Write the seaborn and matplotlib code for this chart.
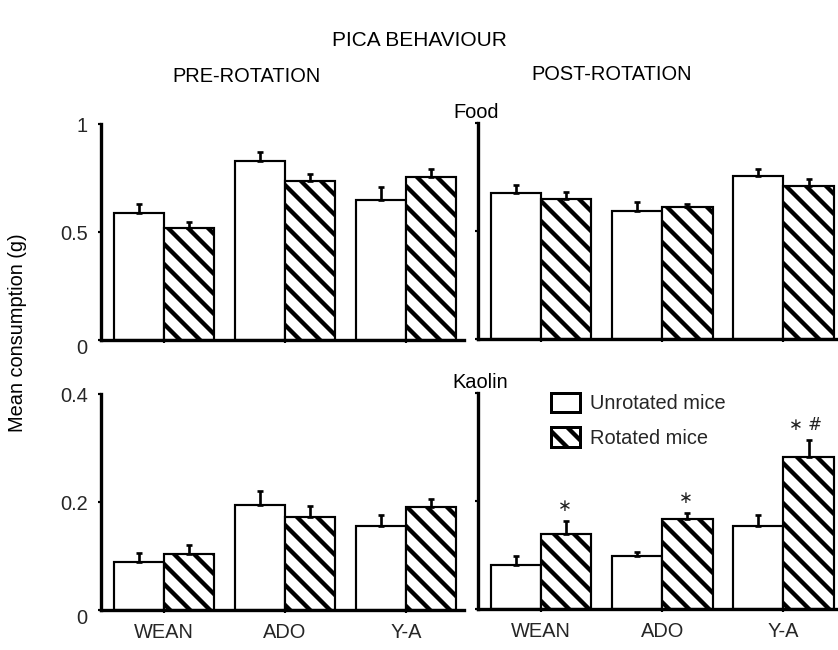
import matplotlib
matplotlib.use("Agg")
import matplotlib.pyplot as plt
from matplotlib.patches import Patch
from matplotlib.transforms import ScaledTranslation
import numpy as np
import pandas as pd
import seaborn as sns

# Age groups and treatment groups
ages = ["WEAN", "ADO", "Y-A"]
groups = ["Unrotated mice", "Rotated mice"]

# Mean consumption (g) and SEM, food
food_pre_unrot = [0.59, 0.83, 0.65]
food_pre_unrot_sem = [0.04, 0.04, 0.06]
food_pre_rot = [0.52, 0.735, 0.755]
food_pre_rot_sem = [0.028, 0.035, 0.035]
food_post_unrot = [0.677, 0.591, 0.753]
food_post_unrot_sem = [0.037, 0.045, 0.034]
food_post_rot = [0.647, 0.613, 0.707]
food_post_rot_sem = [0.033, 0.012, 0.033]

# Mean consumption (g) and SEM, kaolin
kaolin_pre_unrot = [0.089, 0.194, 0.156]
kaolin_pre_unrot_sem = [0.016, 0.026, 0.02]
kaolin_pre_rot = [0.104, 0.172, 0.19]
kaolin_pre_rot_sem = [0.017, 0.021, 0.015]
kaolin_post_unrot = [0.081, 0.099, 0.154]
kaolin_post_unrot_sem = [0.018, 0.007, 0.02]
kaolin_post_rot = [0.138, 0.167, 0.282]
kaolin_post_rot_sem = [0.025, 0.011, 0.031]

# Significance marks over rotated bars (post-rotation kaolin)
kaolin_post_marks = ["\u2217", "\u2217", "\u2217 #"]

DPI = 120
FS = 12
sns.set_theme(style="white")
plt.rcParams["font.family"] = ["Liberation Sans", "DejaVu Sans"]
plt.rcParams["hatch.linewidth"] = 2.6
plt.rcParams["hatch.color"] = "black"

fig = plt.figure(figsize=(838 / DPI, 650 / DPI), dpi=DPI)
W, H = 838.0, 650.0


def axes_px(x0, x1, ytop, ybot):
    return fig.add_axes([x0 / W, 1 - ybot / H, (x1 - x0) / W, (ybot - ytop) / H])


ax_fp = axes_px(101, 464, 124, 340)
ax_fq = axes_px(478, 838, 123, 339)
ax_kp = axes_px(101, 464, 394, 610)
ax_kq = axes_px(478, 838, 393, 609)


def draw_panel(ax, unrot, unrot_sem, rot, rot_sem, ymax, yticks, xlim,
               show_ylabels, show_xlabels):
    df = pd.DataFrame({
        "age": ages * 2,
        "group": [groups[0]] * 3 + [groups[1]] * 3,
        "value": list(unrot) + list(rot),
    })
    sns.barplot(data=df, x="age", y="value", hue="group", order=ages,
                hue_order=groups, palette=["white", "white"],
                edgecolor="black", linewidth=1.3, width=0.83,
                errorbar=None, legend=False, ax=ax, saturation=1)
    for bar in ax.containers[1]:
        bar.set_hatch("\\\\")
    # upward-only error bars
    for cont, sem in zip(ax.containers, [unrot_sem, rot_sem]):
        xs = [b.get_x() + b.get_width() / 2 for b in cont]
        ys = [b.get_height() for b in cont]
        ax.errorbar(xs, ys, yerr=[np.zeros(len(sem)), sem], fmt="none",
                    ecolor="black", elinewidth=1.6, capsize=1.8,
                    capthick=1.6, zorder=3)
    ax.set_xlim(*xlim)
    ax.set_ylim(0, ymax)
    ax.set_yticks(yticks)
    ax.set_xlabel("")
    ax.set_ylabel("")
    for side in ["top", "right"]:
        ax.spines[side].set_visible(False)
    for side in ["left", "bottom"]:
        ax.spines[side].set_color("black")
        ax.spines[side].set_linewidth(2.0)
    ax.tick_params(axis="both", direction="out", length=2, width=1.3,
                   color="black", left=True, bottom=True)
    ax.tick_params(axis="y", labelsize=FS, pad=6)
    ax.tick_params(axis="x", labelsize=FS, pad=6)
    if show_ylabels:
        ax.set_yticklabels([f"{t:g}" for t in yticks])
        # the zero label sits a little below the baseline
        lab0 = ax.get_yticklabels()[0]
        lab0.set_transform(lab0.get_transform() +
                           ScaledTranslation(0, -6 / DPI, fig.dpi_scale_trans))
    else:
        ax.set_yticklabels([])
    if not show_xlabels:
        ax.set_xticklabels([])
    ax.patch.set_alpha(0)


draw_panel(ax_fp, food_pre_unrot, food_pre_unrot_sem, food_pre_rot,
           food_pre_rot_sem, 1.0, [0, 0.5, 1], (-0.52, 2.48), True, False)
draw_panel(ax_fq, food_post_unrot, food_post_unrot_sem, food_post_rot,
           food_post_rot_sem, 1.0, [0, 0.5, 1], (-0.52, 2.45), False, False)
draw_panel(ax_kp, kaolin_pre_unrot, kaolin_pre_unrot_sem, kaolin_pre_rot,
           kaolin_pre_rot_sem, 0.4, [0, 0.2, 0.4], (-0.52, 2.48), True, True)
draw_panel(ax_kq, kaolin_post_unrot, kaolin_post_unrot_sem, kaolin_post_rot,
           kaolin_post_rot_sem, 0.4, [0, 0.2, 0.4], (-0.52, 2.45), False, True)

# significance marks above rotated kaolin bars after rotation
for bar, sem, mark in zip(ax_kq.containers[1], kaolin_post_rot_sem,
                          kaolin_post_marks):
    x = bar.get_x() + bar.get_width() / 2
    top = bar.get_height() + sem
    ax_kq.annotate(mark, (x, top), xytext=(-2 if "#" in mark else -1, 9),
                   textcoords="offset points", ha="center", va="center",
                   fontsize=10, family=["DejaVu Sans"], color="#222222")

# legend
handles = [Patch(facecolor="white", edgecolor="black", linewidth=1.8),
           Patch(facecolor="white", edgecolor="black", linewidth=1.8,
                 hatch="\\\\")]
ax_kq.legend(handles, groups, loc="upper left", bbox_to_anchor=(0.203, 1.0),
             frameon=False, fontsize=FS, handlelength=1.45, handleheight=1.1,
             handletextpad=0.5, labelspacing=0.7, borderpad=0,
             borderaxespad=0)

# titles and labels
fig.text(419 / W, 1 - 40 / H, "PICA BEHAVIOUR", ha="center", va="center",
         fontsize=12.5, color="black")
fig.text(247 / W, 1 - 77 / H, "PRE-ROTATION", ha="center", va="center",
         fontsize=FS, color="black")
fig.text(612 / W, 1 - 75 / H, "POST-ROTATION", ha="center", va="center",
         fontsize=FS, color="black")
fig.text(453 / W, 1 - 113 / H, "Food", ha="left", va="center",
         fontsize=FS, color="black")
fig.text(452 / W, 1 - 382 / H, "Kaolin", ha="left", va="center",
         fontsize=FS, color="black")
fig.text(18 / W, 1 - 333 / H, "Mean consumption (g)", ha="center",
         va="center", rotation=90, fontsize=FS, color="black")

fig.savefig("out.png", dpi=DPI)
